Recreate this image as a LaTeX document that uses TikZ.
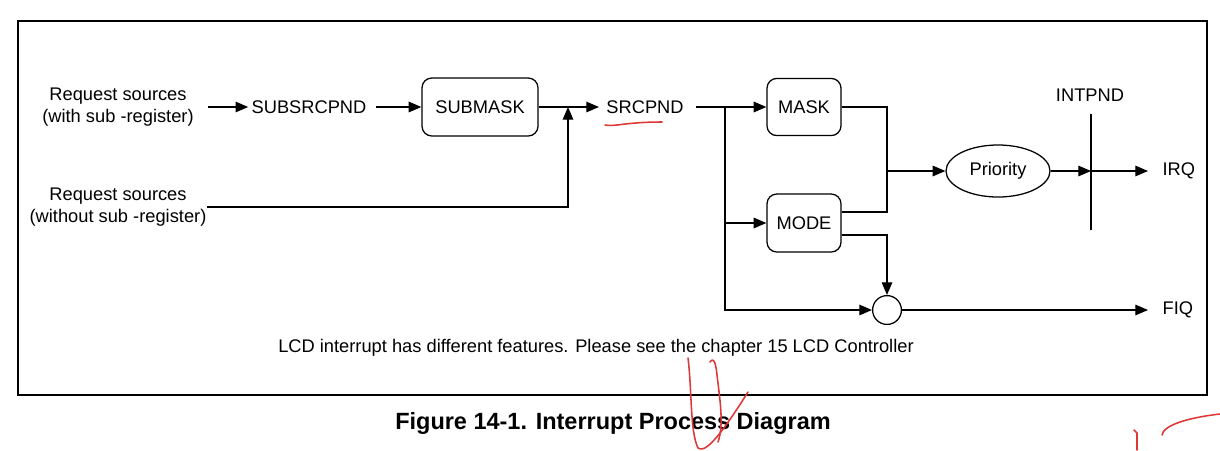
\documentclass[tikz,border=0pt]{standalone}
\usepackage{fontspec}
\setmainfont{Liberation Sans}
\usetikzlibrary{arrows.meta,shapes.geometric}
\definecolor{annred}{RGB}{222,55,55}
\begin{document}
\begin{tikzpicture}[x=0.025cm,y=-0.025cm,
  line width=0.9pt,
  font=\fontsize{13}{15.6}\selectfont,
  arr/.style={-{Triangle[length=9pt,width=7.5pt]}},
  box/.style={draw,rounded corners=7pt,minimum height=1.45cm,inner sep=0pt},
  lbl/.style={inner sep=0pt,align=center},
  ann/.style={draw=annred,line width=1.1pt,line cap=round,line join=round}]
\useasboundingbox (0,0) rectangle (1220,450);
\draw[line width=1pt] (18,21) rectangle (1207,395);

% nodes
\node[lbl] (rs1) at (118,107) {Request sources\\(with sub -register)};
\node[lbl] (rs2) at (118,207) {Request sources\\(without sub -register)};
\node[lbl] (subsrc) at (309,107) {SUBSRCPND};
\node[box,minimum width=2.9cm] (submask) at (480,107) {SUBMASK};
\node[lbl] (srcpnd) at (645,107) {SRCPND};
\node[box,minimum width=1.85cm,minimum height=1.43cm] (mask) at (804,107) {MASK};
\node[box,minimum width=1.85cm] (mode) at (804,223) {MODE};
\node[draw,ellipse,minimum width=2.6cm,minimum height=1.3cm,inner sep=0pt] (prio) at (998,171) {Priority};
\node[draw,circle,minimum size=0.72cm,inner sep=0pt] (orc) at (887,310) {};
\node[lbl] (intpnd) at (1090,95) {INTPND};
\node[lbl,anchor=west] (irq) at (1162,171) {IRQ};
\node[lbl,anchor=west] (fiq) at (1162,310) {FIQ};
\node[lbl] (note) at (596,348) {LCD interrupt has different features. Please see the chapter 15 LCD Controller};
\node[lbl,font=\fontsize{16.7}{20}\selectfont\bfseries] (cap) at (613,423) {Figure 14-1. Interrupt Process Diagram};

\coordinate (j1) at (568,107);
\coordinate (sp) at (725,107);
\coordinate (mg) at (887,171);
\coordinate (ip1) at (1091,114);
\coordinate (ip2) at (1091,230);
\coordinate (ipm) at (1091,171);

% connectors
\draw[arr] ([xshift=0.35cm]rs1.east) -- ([xshift=-0.07cm]subsrc.west);
\draw[arr] ([xshift=0.22cm]subsrc.east) -- (submask.west);
\draw[arr] (submask.east) -- ([xshift=-0.17cm]srcpnd.west);
\draw[arr] (rs2.east) -| (j1);
\draw[arr] ([xshift=0.3cm]srcpnd.east) -- (mask.west);
\draw[arr] (sp) |- (mode.west);
\draw[arr] (sp) |- (orc.west);
\draw (mask.east) -| (mg);
\draw ([yshift=0.275cm]mode.east) -| (mg);
\draw[arr] (mg) -- (prio.west);
\draw[arr] ([yshift=-0.3cm]mode.east) -| (orc.north);
\draw (ip1) -- (ip2);
\draw[arr] (prio.east) -- (ipm);
\draw[arr] (ipm) -- ([xshift=-0.35cm]irq.west);
\draw[arr] (orc.east) -- ([xshift=-0.35cm]fiq.west);

% red hand annotations
\draw[ann] (605,125) .. controls (615,127) and (625,122) .. (662,122);
\draw[ann] (688,358) .. controls (692,390) and (690,432) .. (698,448) .. controls (704,452) and (714,446) .. (748,392);
\draw[ann] (710,362) .. controls (714,356) and (716,365) .. (717,375) .. controls (720,400) and (724,425) .. (718,442);
\draw[ann] (1134,430) -- (1137,433) -- (1137,450);
\draw[ann] (1162,435) .. controls (1163,426) and (1185,418) .. (1220,414);
\end{tikzpicture}
\end{document}
